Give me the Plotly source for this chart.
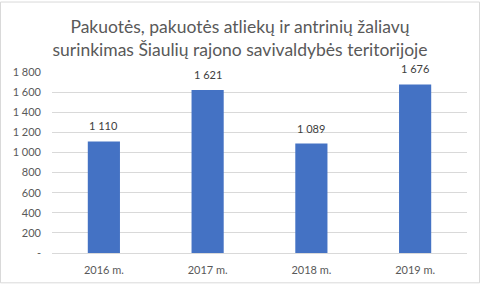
import plotly.graph_objects as go

categories = ["2016 m.", "2017 m.", "2018 m.", "2019 m."]
values = [1110, 1621, 1089, 1676]
value_labels = ["1 110", "1 621", "1 089", "1 676"]
tick_vals = [0, 200, 400, 600, 800, 1000, 1200, 1400, 1600, 1800]
tick_text = ["-", "200", "400", "600", "800", "1 000", "1 200", "1 400", "1 600", "1 800"]
title_text = "Pakuotės, pakuotės atliekų ir antrinių žaliavų<br>surinkimas Šiaulių rajono savivaldybės teritorijoje"

W, H = 480, 288
L, R, T, B = 52, 13, 72, 31
pw, ph = W - L - R, H - T - B

fig = go.Figure(go.Bar(
    x=categories, y=values,
    marker=dict(color="#4472C4", line=dict(width=0)),
    width=0.31,
))

for c, v, lab in zip(categories, values, value_labels):
    fig.add_annotation(x=c, y=v, text=lab, showarrow=False, yanchor="bottom", yshift=7,
                       font=dict(size=11, color="#404040", family="Lato"))

def px_x(p):
    return (p - L) / pw

def px_y(p):
    return 1 - (p - T) / ph

fig.update_layout(
    width=W, height=H,
    margin=dict(l=L, r=R, t=T, b=B),
    paper_bgcolor="white", plot_bgcolor="white",
    font=dict(family="Lato", color="#595959"),
    title=dict(text=title_text, x=0.5, xanchor="center", y=1 - 33 / H, yanchor="middle",
               font=dict(size=17.5, color="#595959", family="Lato")),
    showlegend=False,
    xaxis=dict(showgrid=False, showline=False, ticks="", tickfont=dict(size=11, color="#595959"),
               range=[-0.5, 3.5], ticklabelstandoff=9),
    yaxis=dict(range=[0, 1800], tickvals=tick_vals, ticktext=tick_text, showgrid=True,
               gridcolor="#D9D9D9", gridwidth=1, zeroline=True, zerolinecolor="#D9D9D9",
               zerolinewidth=1, tickfont=dict(size=11, color="#595959"), ticks="",
               ticklabelstandoff=10),
    shapes=[dict(type="rect", xref="paper", yref="paper",
                 x0=px_x(0.5), x1=px_x(W - 0.5), y0=px_y(H - 0.5), y1=px_y(0.5),
                 line=dict(color="#D9D9D9", width=1), layer="below")],
)

fig.write_html("out.html")
